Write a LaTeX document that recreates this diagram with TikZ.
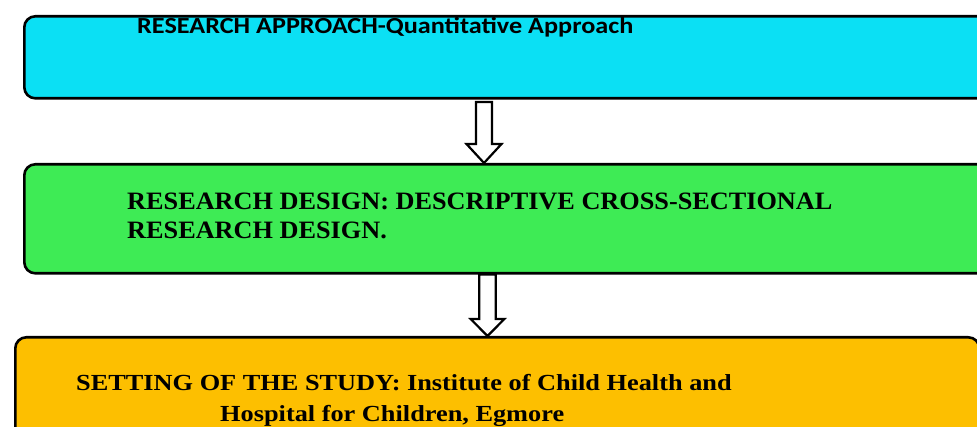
\documentclass[tikz,border=0pt]{standalone}
\usepackage{fontspec}
\setmainfont{Liberation Serif}
\newfontfamily\calib{Carlito}
\usetikzlibrary{calc}
\definecolor{boxcyan}{RGB}{11,224,244}
\definecolor{boxgreen}{RGB}{62,235,85}
\definecolor{boxyellow}{RGB}{253,191,0}
\tikzset{
  flowbox/.style={draw=black, line width=2.6pt, rounded corners=11pt, anchor=north west, inner sep=0pt},
  hollowarrow/.style={draw=black, fill=white, line width=2.2pt, line join=miter},
  lbl/.style={anchor=base west, inner sep=0pt, text=black}
}
\begin{document}
\begin{tikzpicture}[x=1pt,y=-1pt]
\useasboundingbox (0,0) rectangle (977,427);
\clip (0,0) rectangle (977,427);
\node[flowbox, fill=boxcyan, minimum width=987pt, minimum height=82pt] (b1) at (23,15) {};
\node[flowbox, fill=boxgreen, minimum width=987pt, minimum height=109pt] (b2) at (23,163) {};
\node[flowbox, fill=boxyellow, minimum width=964pt, minimum height=130pt] (b3) at (14,336) {};
\node[lbl, font=\calib\bfseries\fontsize{23}{24}\selectfont] (t1) at (137,34) {\scalebox{1.14}[1]{RESEARCH APPROACH-Quantitative Approach}};
\node[lbl, font=\bfseries\fontsize{25}{29}\selectfont] (t2a) at (127,210) {\scalebox{1.05}[1]{RESEARCH DESIGN: DESCRIPTIVE CROSS-SECTIONAL}};
\node[lbl, font=\bfseries\fontsize{25}{29}\selectfont] (t2b) at (127,239) {\scalebox{1.05}[1]{RESEARCH DESIGN.}};
\node[lbl, font=\bfseries\fontsize{23}{29}\selectfont] (t3a) at (76,390) {\scalebox{1.144}[1]{SETTING OF THE STUDY: Institute of Child Health and}};
\node[lbl, font=\bfseries\fontsize{23}{29}\selectfont] (t3b) at (220,421) {\scalebox{1.144}[1]{Hospital for Children, Egmore}};
% arrow 1
\coordinate (s1) at (484,102);
\coordinate (e1) at (s1 |- b2.north);
\draw[hollowarrow] ($(s1)+(-8,0)$) -- ($(s1)+(8,0)$) -- ($(s1)+(8,42)$) -- ($(s1)+(17.5,42)$) -- (e1) -- ($(s1)+(-17.5,42)$) -- ($(s1)+(-8,42)$) -- cycle;
% arrow 2
\coordinate (s2) at (487.5,0);
\coordinate (a2) at (s2 |- b2.south);
\coordinate (e2) at (s2 |- b3.north);
\draw[hollowarrow] ($(a2)+(-8.2,0)$) -- ($(a2)+(8.2,0)$) -- ($(a2)+(8.2,44.5)$) -- ($(a2)+(16.8,44.5)$) -- (e2) -- ($(a2)+(-16.8,44.5)$) -- ($(a2)+(-8.2,44.5)$) -- cycle;
\end{tikzpicture}
\end{document}
